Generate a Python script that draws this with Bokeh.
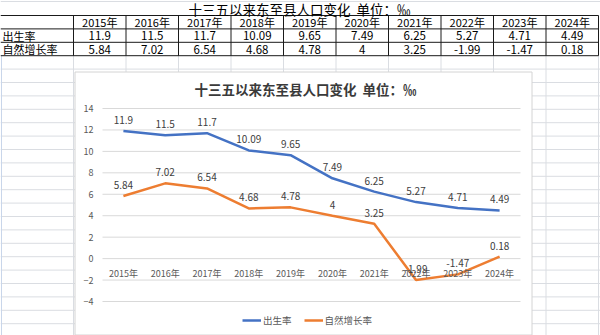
from bokeh.plotting import figure
from bokeh.models import (ColumnDataSource, LabelSet, Legend, LegendItem, Range1d,
                          FixedTicker, LinearAxis)
from bokeh.embed import file_html
from bokeh.resources import INLINE
from bokeh.core.properties import value

# ---------------- data ----------------
years = ["2015年", "2016年", "2017年", "2018年", "2019年",
         "2020年", "2021年", "2022年", "2023年", "2024年"]
birth_rate = [11.9, 11.5, 11.7, 10.09, 9.65, 7.49, 6.25, 5.27, 4.71, 4.49]
natural_growth = [5.84, 7.02, 6.54, 4.68, 4.78, 4, 3.25, -1.99, -1.47, 0.18]
series_names = ["出生率", "自然增长率"]
title_text = "十三五以来东至县人口变化\u00a0\u00a0单位：‰"
y_ticks = [-4, -2, 0, 2, 4, 6, 8, 10, 12, 14]
y_min, y_max = -4, 14

def fmt(v):
    return f"{v:g}"

FONT = "Noto Sans CJK SC"
CJK = value(FONT)
GRID = "#DADDE2"
CHART_BORDER = "#D4D4D4"
BLUE = "#4472C4"
ORANGE = "#ED7D31"

# ---------------- layout geometry (pixels) ----------------
W, H = 600, 335
CH_L, CH_R, CH_T, CH_B = 74.5, 531.5, 71.5, 334.5   # chart box
PA_L, PA_R, PA_T, PA_B = 102, 520, 108, 301           # chart plot area
col0, col_w = 73.0, 52.5
row0, row_h = 15.0, 13.4
bounds = [col0 + i * col_w for i in range(len(years) + 1)]
row_lines = []
yy = row0
while yy < H:
    row_lines.append(yy)
    yy += row_h

# chart coordinate systems mapped over the whole canvas
n = len(years)
step = (PA_R - PA_L) / n
def u_of(px):
    return (px - PA_L) / step - 0.5
def v_of(py):
    return y_max - (py - PA_T) * (y_max - y_min) / (PA_B - PA_T)

p = figure(width=W, height=H, x_range=Range1d(0, W), y_range=Range1d(H, 0),
           x_axis_type=None, y_axis_type=None, toolbar_location=None,
           output_backend="svg", min_border=0, outline_line_color=None)
p.grid.visible = False
p.background_fill_color = "white"
p.border_fill_color = "white"
p.extra_x_ranges = {"cx": Range1d(u_of(0), u_of(W))}
p.extra_y_ranges = {"cy": Range1d(v_of(H), v_of(0))}

# ---------------- spreadsheet grid ----------------
light_rows = [1] + row_lines[4:]
p.segment(x0=[0] * len(light_rows), x1=[W] * len(light_rows), y0=light_rows, y1=light_rows,
          line_color=GRID, line_width=1)
p.segment(x0=bounds, x1=bounds, y0=[row_lines[3]] * len(bounds), y1=[H] * len(bounds),
          line_color=GRID, line_width=1)
p.segment(x0=[1], x1=[1], y0=[row_lines[3]], y1=[H], line_color="#C9D6EA", line_width=1)

# table borders
tb = row_lines[:4]
p.segment(x0=[0] * 4, x1=[bounds[-1]] * 4, y0=tb, y1=tb, line_color="#1a1a1a", line_width=1)
p.segment(x0=bounds, x1=bounds, y0=[tb[0]] * len(bounds), y1=[tb[-1]] * len(bounds),
          line_color="#1a1a1a", line_width=1)

# table texts
p.text(x=[299], y=[8.5], text=[title_text], text_font=CJK, text_font_size="13.5px",
       text_align="center", text_baseline="middle", text_color="#000000")
centers = [b + col_w / 2 for b in bounds[:-1]]
mid = [(tb[i] + tb[i + 1]) / 2 for i in range(3)]
p.text(x=centers, y=[mid[0]] * n, text=years, text_font=CJK, text_font_size="11px",
       text_align="center", text_baseline="middle", text_color="#000000")
p.text(x=centers, y=[mid[1]] * n, text=[fmt(v) for v in birth_rate], text_font=CJK,
       text_font_size="11.5px", text_align="center", text_baseline="middle", text_color="#000000")
p.text(x=centers, y=[mid[2]] * n, text=[fmt(v) for v in natural_growth], text_font=CJK,
       text_font_size="11.5px", text_align="center", text_baseline="middle", text_color="#000000")
p.text(x=[2, 2], y=[mid[1], mid[2]], text=series_names, text_font=CJK, text_font_size="11px",
       text_align="left", text_baseline="middle", text_color="#000000")

# ---------------- chart box ----------------
p.quad(left=[CH_L], right=[CH_R], top=[CH_T], bottom=[CH_B], fill_color="white",
       line_color=CHART_BORDER, line_width=1)
p.text(x=[305], y=[88], text=[title_text], text_font=CJK, text_font_size="13.5px",
       text_font_style="bold", text_align="center", text_baseline="middle",
       text_color="#3a3a3a")

idx = list(range(n))
src = ColumnDataSource(dict(
    i=idx, birth=birth_rate, growth=natural_growth,
    birth_txt=[fmt(v) for v in birth_rate], growth_txt=[fmt(v) for v in natural_growth]))

# horizontal gridlines of the chart
p.segment(x0=[-0.5] * len(y_ticks), x1=[n - 0.5] * len(y_ticks), y0=y_ticks, y1=y_ticks,
          line_color="#D9D9D9", line_width=1, x_range_name="cx", y_range_name="cy")

def style_axis(ax, standoff):
    ax.axis_line_color = None
    ax.major_tick_line_color = None
    ax.minor_tick_line_color = None
    ax.major_tick_out = 0
    ax.major_tick_in = 0
    ax.minor_tick_out = 0
    ax.minor_tick_in = 0
    ax.major_label_text_font = FONT
    ax.major_label_text_font_size = "9px"
    ax.major_label_text_color = "#595959"
    ax.major_label_standoff = standoff

yaxis = LinearAxis(x_range_name="cx", y_range_name="cy", ticker=FixedTicker(ticks=y_ticks),
                   fixed_location=-0.5)
style_axis(yaxis, 9)
p.add_layout(yaxis, "left")

xaxis = LinearAxis(x_range_name="cx", y_range_name="cy", ticker=FixedTicker(ticks=idx),
                   fixed_location=0, major_label_overrides={i: years[i] for i in idx})
style_axis(xaxis, 8)
p.add_layout(xaxis, "below")

r1 = p.line("i", "birth", source=src, line_color=BLUE, line_width=2.5,
            x_range_name="cx", y_range_name="cy")
r2 = p.line("i", "growth", source=src, line_color=ORANGE, line_width=2.5,
            x_range_name="cx", y_range_name="cy")

for col, txt in (("birth", "birth_txt"), ("growth", "growth_txt")):
    p.add_layout(LabelSet(x="i", y=col, text=txt, source=src, y_offset=7,
                          x_range_name="cx", y_range_name="cy",
                          text_align="center", text_baseline="bottom",
                          text_font=CJK, text_font_size="10px", text_color="#404040"))

legend = Legend(items=[LegendItem(label=series_names[0], renderers=[r1]),
                       LegendItem(label=series_names[1], renderers=[r2])],
                orientation="horizontal", location=(242, 8))
legend.label_text_font = FONT
legend.label_text_font_size = "9.5px"
legend.label_text_color = "#595959"
legend.glyph_width = 19
legend.glyph_height = 12
legend.label_height = 12
legend.label_standoff = 2
legend.spacing = 12
legend.padding = 0
legend.margin = 0
legend.border_line_color = None
legend.background_fill_alpha = 0
p.add_layout(legend)

open("out.html", "w").write(file_html(p, INLINE))
